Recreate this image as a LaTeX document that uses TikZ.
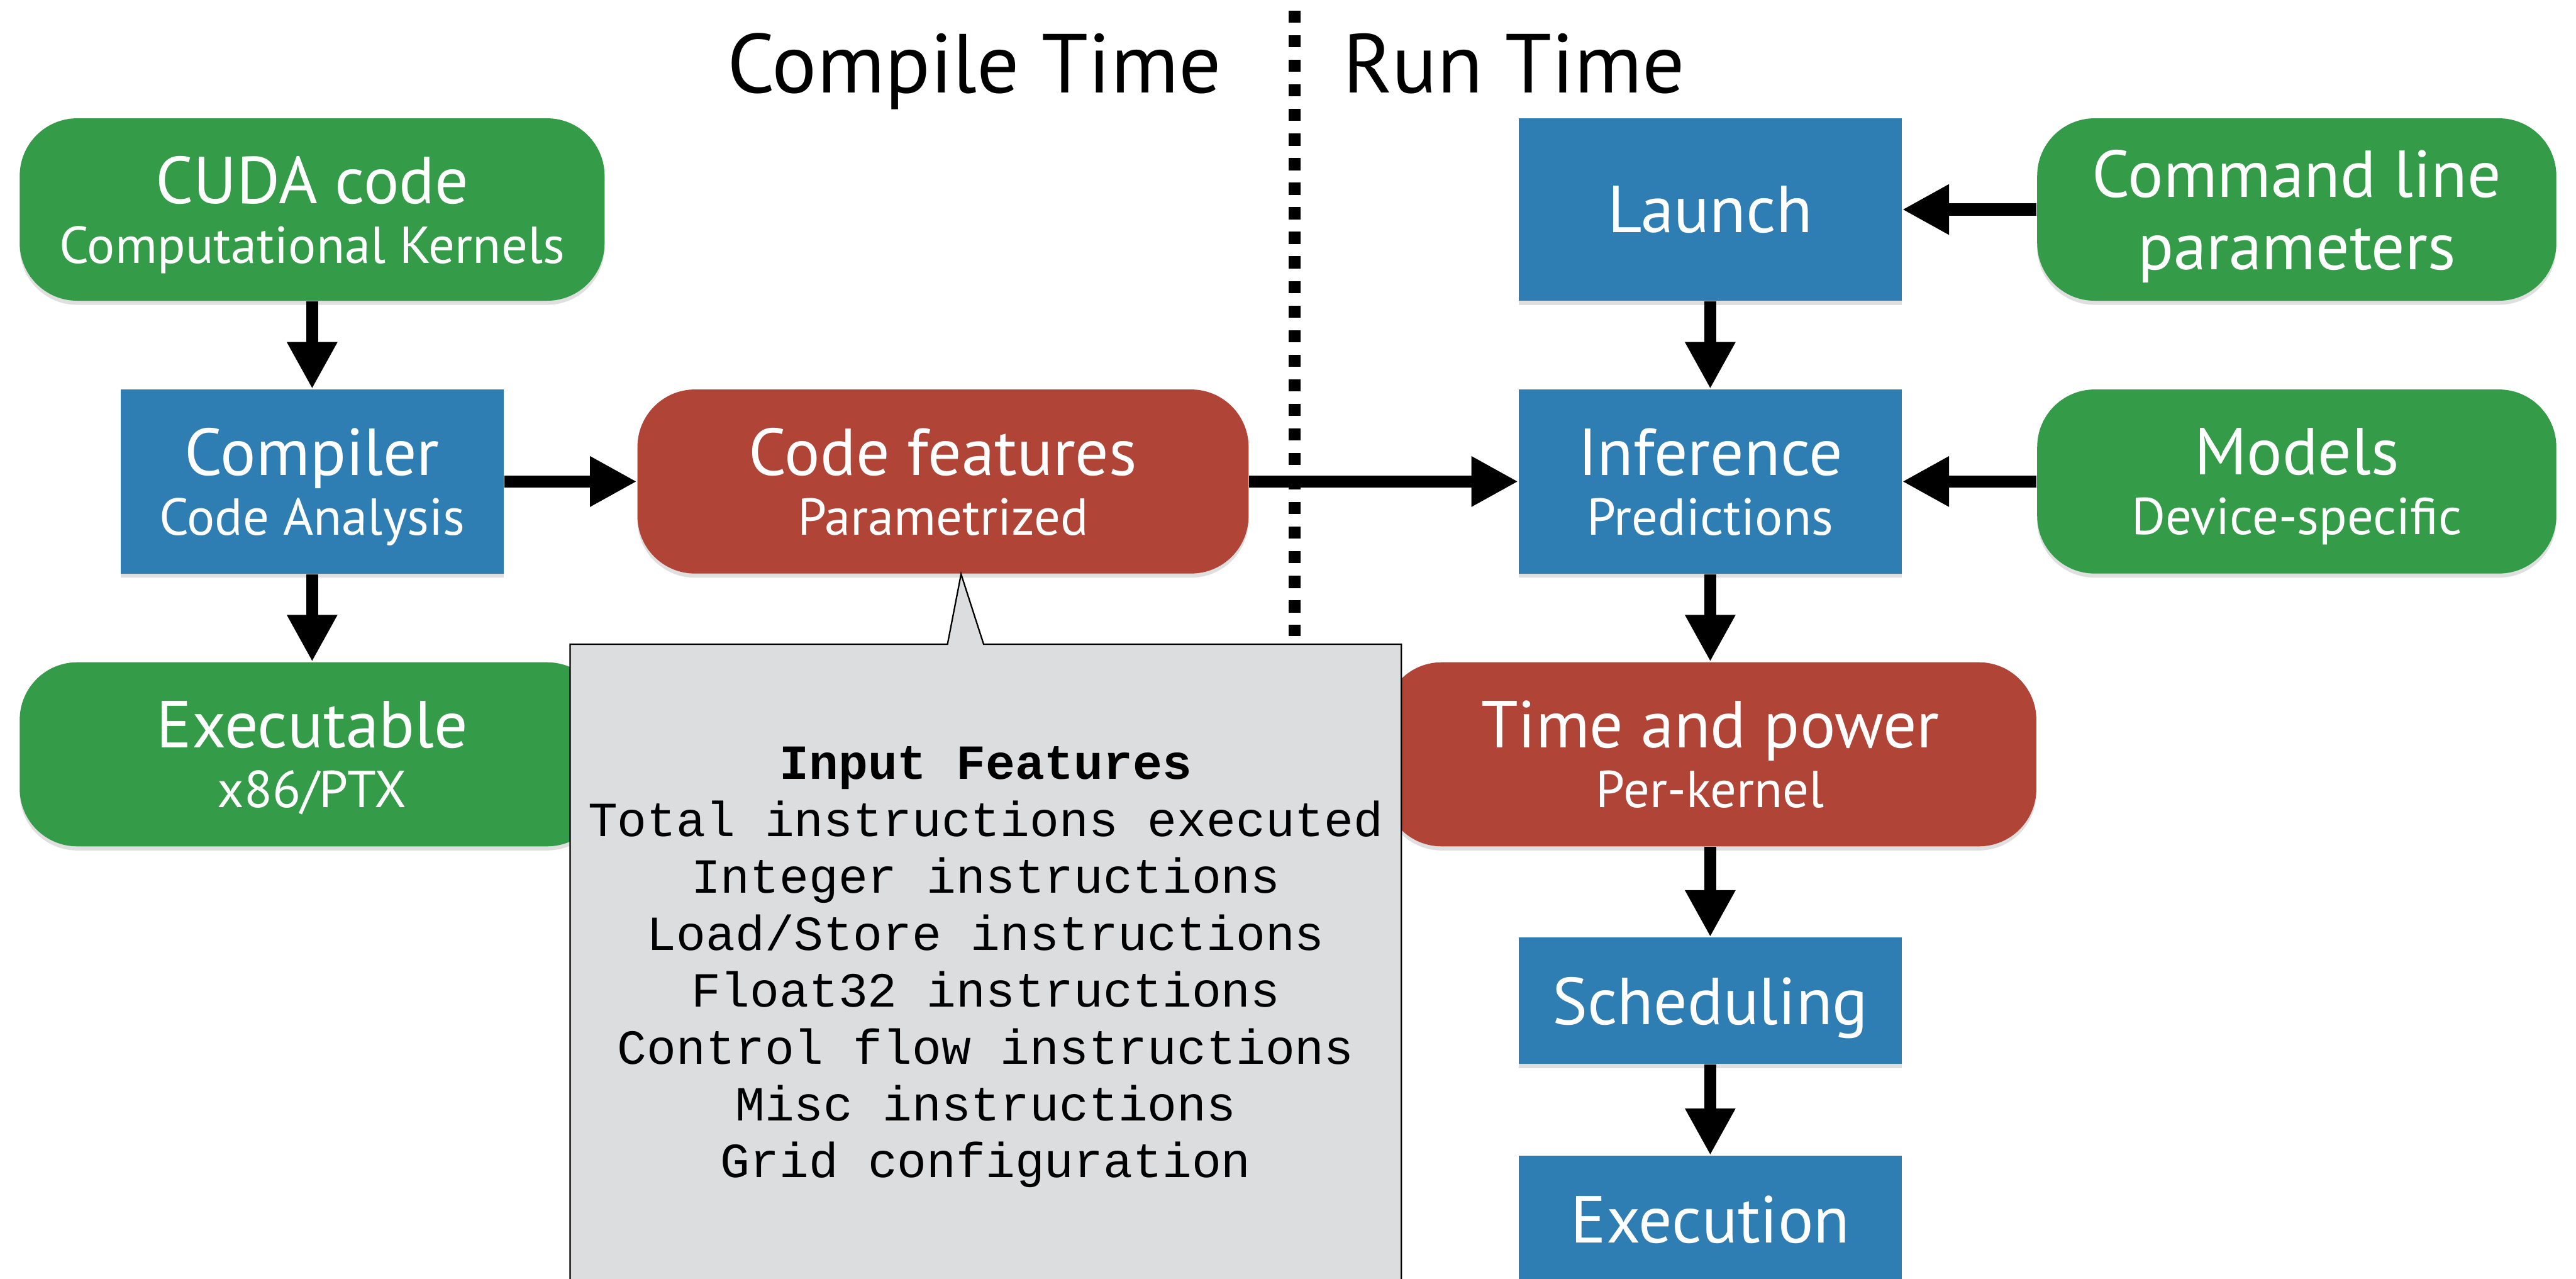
\documentclass[tikz,border=0pt]{standalone}
\usepackage{fontspec}
\setmainfont{PT Sans}
\newfontfamily\codefont{Liberation Mono}
\usetikzlibrary{arrows.meta,shapes.callouts,shadows}

\definecolor{boxgreen}{RGB}{52,155,72}
\definecolor{boxblue}{RGB}{46,125,179}
\definecolor{boxred}{RGB}{176,68,54}
\definecolor{notegray}{RGB}{220,221,223}

\newcommand{\bigtxt}{\fontsize{23}{20.7}\selectfont}
\newcommand{\smalltxt}{\fontsize{18}{20.7}\selectfont}

\tikzset{
  box/.style={text=white, align=center, inner sep=0pt, font=\bigtxt, text depth=-0.03cm,
    drop shadow={shadow xshift=0pt, shadow yshift=-0.05cm, opacity=0.25}},
  bluebox/.style={box, fill=boxblue, minimum width=4.66cm},
  greenbox/.style={box, fill=boxgreen, rounded corners=0.7cm},
  redbox/.style={box, fill=boxred, rounded corners=0.7cm},
  flow/.style={line width=0.148cm, -{Triangle[length=0.57cm,width=0.574cm]}}
}

\begin{document}
\begin{tikzpicture}
\useasboundingbox (0,0) rectangle (31.36,15.56);

% headings and the split
\node[font=\fontsize{29}{34}\selectfont, anchor=base] (ctime) at (11.86,14.43) {Compile Time};
\node[font=\fontsize{29}{34}\selectfont, anchor=base] (rtime) at (18.43,14.43) {Run Time};
\draw[line width=0.148cm, dash pattern=on 0.148cm off 0.151cm] (15.76,15.43) -- (15.76,7.82);

% compile time
\node[greenbox, minimum width=7.12cm, minimum height=2.22cm] (cuda) at (3.80,13.01) {CUDA code\\{\smalltxt Computational Kernels}};
\node[bluebox, minimum height=2.24cm] (comp) at (3.80,9.70) {Compiler\\{\smalltxt Code Analysis}};
\node[greenbox, minimum width=7.12cm, minimum height=2.24cm] (exe) at (3.80,6.38) {Executable\\{\smalltxt x86/PTX}};
\node[redbox, minimum width=7.44cm, minimum height=2.24cm] (feat) at (11.48,9.70) {Code features\\{\smalltxt Parametrized}};

% run time
\node[bluebox, minimum height=2.22cm] (launch) at (20.82,13.01) {Launch};
\node[greenbox, minimum width=6.32cm, minimum height=2.22cm] (cmd) at (27.96,13.01) {Command line\\[4.3pt]parameters};
\node[bluebox, minimum height=2.24cm] (infer) at (20.82,9.70) {Inference\\{\smalltxt Predictions}};
\node[greenbox, minimum width=6.32cm, minimum height=2.24cm] (models) at (27.96,9.70) {Models\\{\smalltxt Device-specific}};
\node[redbox, minimum width=7.94cm, minimum height=2.24cm] (tpow) at (20.82,6.38) {Time and power\\{\smalltxt Per-kernel}};
\node[bluebox, minimum height=1.54cm] (sched) at (20.82,3.38) {Scheduling};
\node[bluebox, minimum height=1.54cm] (exec) at (20.82,0.724) {Execution};

\draw[flow] (cuda) -- (comp);
\draw[flow] (comp) -- (exe);
\draw[flow] (comp) -- (feat);
\draw[flow] (feat) -- (infer);
\draw[flow] (cmd) -- (launch);
\draw[flow] (launch) -- (infer);
\draw[flow] (models) -- (infer);
\draw[flow] (infer) -- (tpow);
\draw[flow] (tpow) -- (sched);
\draw[flow] (sched) -- (exec);

% feature list
\coordinate (tip) at ([xshift=0.22cm]feat.south);
\node[rectangle callout, callout absolute pointer=(tip), callout pointer width=0.44cm,
  fill=notegray, draw=black, line width=0.5pt, minimum width=10.12cm, minimum height=7.74cm,
  align=center, text depth=0pt, font=\codefont\fontsize{17}{19.7}\selectfont] (note) at (12.0,3.85)
  {\textbf{Input Features}\\Total instructions executed\\Integer instructions\\Load/Store instructions\\
   Float32 instructions\\Control flow instructions\\Misc instructions\\Grid configuration};
\end{tikzpicture}
\end{document}
